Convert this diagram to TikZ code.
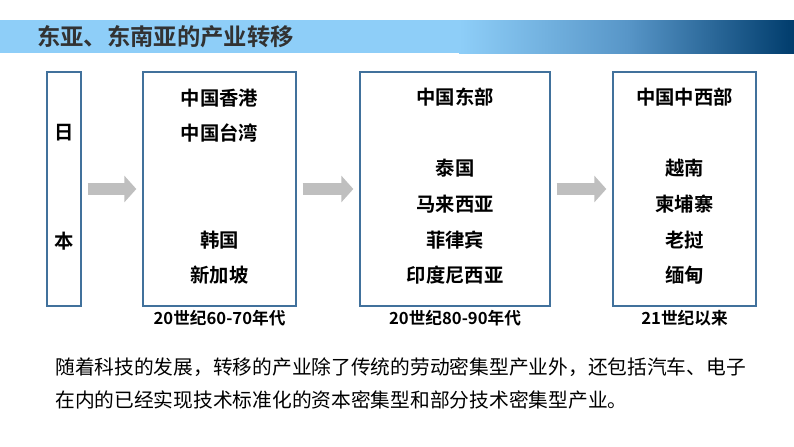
\documentclass[tikz,border=0pt]{standalone}
\usepackage{fontspec}
\setmainfont{Noto Sans CJK SC}
\newfontfamily\cjkbold{Noto Sans CJK SC Bold}
\usetikzlibrary{arrows.meta, positioning}

\definecolor{barlight}{RGB}{142,206,248}
\definecolor{barmid}{RGB}{88,150,200}
\definecolor{bardark}{RGB}{0,60,108}
\definecolor{boxline}{RGB}{65,113,156}
\definecolor{arrowgray}{RGB}{191,191,191}
\definecolor{titletext}{RGB}{50,50,50}

\tikzset{
  stage/.style={draw=boxline, line width=1pt, fill=white, minimum height=175.5pt},
  place/.style={font=\cjkbold\fontsize{14.5pt}{16pt}\selectfont, inner sep=0pt},
  period/.style={font=\cjkbold\fontsize{12.5pt}{14pt}\selectfont, inner sep=0pt},
  moveon/.style={arrowgray, line width=9pt, -{Triangle[length=9pt,width=19.5pt]}, shorten <=4.5pt, shorten >=4.5pt}
}

\begin{document}
\begin{tikzpicture}[x=0.75pt, y=-0.75pt]
\useasboundingbox (0,0) rectangle (794,447);

% Title bar
\fill[barlight] (0,20) rectangle (460,53);
\shade[left color=barlight, right color=bardark, middle color=barmid] (459,20) rectangle (794,53);
\node (title) [anchor=west, inner sep=0pt, text=titletext, font=\cjkbold\fontsize{17.5pt}{19pt}\selectfont] at (37,37) {东亚、东南亚的产业转移};

% Boxes
\node (japan) [stage, minimum width=25.5pt] at (64,189) {};
\node (first) [stage, minimum width=114.75pt] at (219.5,189) {};
\node (second) [stage, minimum width=142.5pt] at (455,189) {};
\node (third) [stage, minimum width=107.25pt] at (684.5,189) {};

% Texts
\node (ri) [place] at (64,133) {日};
\node (ben) [place] at (64,241) {本};

\node (hk) [place] at (219.5,98) {中国香港};
\node (tw) [place] at (219.5,133) {中国台湾};
\node (kr) [place] at (219.5,240) {韩国};
\node (sg) [place] at (219.5,275) {新加坡};

\node (east) [place] at (455,97) {中国东部};
\node (th) [place] at (455,168) {泰国};
\node (my) [place] at (455,204) {马来西亚};
\node (ph) [place] at (455,240) {菲律宾};
\node (id) [place] at (455,275) {印度尼西亚};

\node (west) [place] at (684.5,97) {中国中西部};
\node (vn) [place] at (684.5,168) {越南};
\node (kh) [place] at (684.5,204) {柬埔寨};
\node (la) [place] at (684.5,240) {老挝};
\node (mm) [place] at (684.5,275) {缅甸};

% Periods
\node (p1) [period, below=2.5pt of first] {20世纪60-70年代};
\node (p2) [period, below=2.5pt of second] {20世纪80-90年代};
\node (p3) [period, below=2.5pt of third] {21世纪以来};

% Arrows
\draw [moveon] (japan) -- (first);
\draw [moveon] (first) -- (second);
\draw [moveon] (second) -- (third);

% Note
\node (note) [anchor=north west, inner sep=0pt, align=left, font=\fontsize{14.8pt}{25pt}\selectfont] at (55,357)
  {随着科技的发展，转移的产业除了传统的劳动密集型产业外，还包括汽车、电子\\在内的已经实现技术标准化的资本密集型和部分技术密集型产业。};
\end{tikzpicture}
\end{document}
